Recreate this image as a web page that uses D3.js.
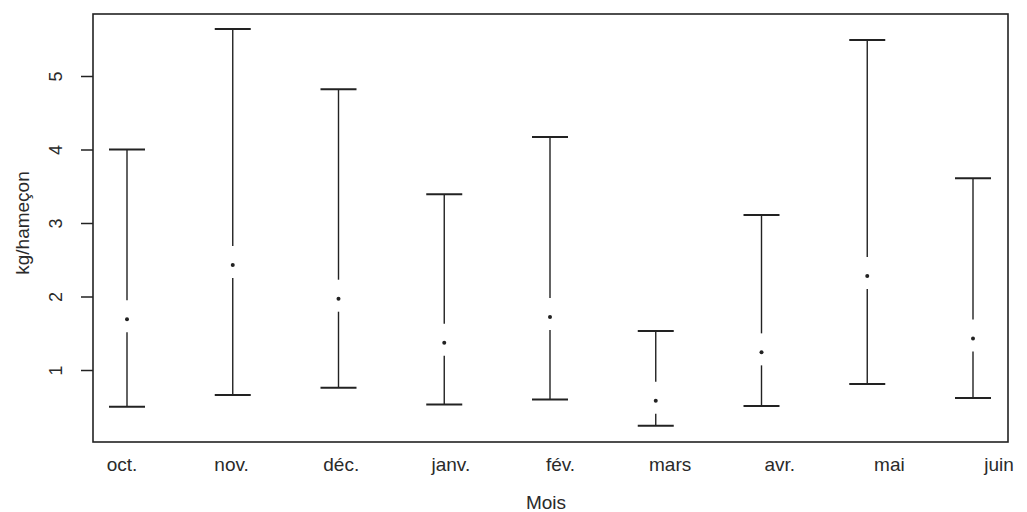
<!DOCTYPE html>
<html>
<head>
<meta charset="utf-8">
<script src="https://cdn.jsdelivr.net/npm/d3@7"></script>
<style>
  body { margin: 0; background: #fff; }
  text { font-family: "Liberation Sans", Arial, sans-serif; fill: #2a2a2a; }
</style>
</head>
<body>
<script>
var months = ["oct.", "nov.", "déc.", "janv.", "fév.", "mars", "avr.", "mai", "juin"];
var means  = [1.69, 2.43, 1.97, 1.37, 1.72, 0.58, 1.24, 2.28, 1.43];
var lower  = [0.50, 0.66, 0.76, 0.53, 0.60, 0.24, 0.51, 0.81, 0.62];
var upper  = [4.00, 5.64, 4.82, 3.39, 4.17, 1.53, 3.11, 5.49, 3.61];
var yTicks = [1, 2, 3, 4, 5];

var width = 1027;
var height = 512;
var box = { left: 93, right: 1008, top: 14, bottom: 442 };
var capHalf = 18;
var gapUp = 19, gapDown = 13;

var svg = d3.select("body").append("svg")
    .attr("width", width)
    .attr("height", height);

var data = months.map(function(m, i) {
    return { month: m, mean: means[i], lo: lower[i], hi: upper[i] };
});

// scales
var y = d3.scaleLinear().domain([1, 5]).range([370, 76]);
var x = d3.scalePoint().domain(months).range([127, 973]);
var xLab = d3.scalePoint().domain(months).range([122, 999]);

// plot frame
svg.append("rect")
    .attr("x", box.left)
    .attr("y", box.top)
    .attr("width", box.right - box.left)
    .attr("height", box.bottom - box.top)
    .attr("fill", "none")
    .attr("stroke", "#222")
    .attr("stroke-width", 1.6);

// y axis
var yAxis = svg.append("g")
    .attr("transform", "translate(" + box.left + ",0)")
    .call(d3.axisLeft(y).tickValues(yTicks).tickSize(12).tickFormat(d3.format("d")));
yAxis.select(".domain").remove();
yAxis.selectAll(".tick line").attr("stroke", "#222").attr("stroke-width", 1.5);
yAxis.selectAll(".tick text")
    .attr("x", null).attr("dy", null)
    .attr("font-size", 18)
    .attr("text-anchor", "middle")
    .attr("transform", "translate(-31,0) rotate(-90)");

svg.append("text")
    .attr("transform", "translate(29," + 223 + ") rotate(-90)")
    .attr("text-anchor", "middle")
    .attr("font-size", 19)
    .text("kg/hameçon");

// x labels
svg.selectAll(".xlab")
    .data(months)
    .enter()
    .append("text")
    .attr("class", "xlab")
    .attr("x", function(d) { return xLab(d); })
    .attr("y", 471)
    .attr("text-anchor", "middle")
    .attr("font-size", 19)
    .text(function(d) { return d; });

svg.append("text")
    .attr("x", 546)
    .attr("y", 509)
    .attr("text-anchor", "middle")
    .attr("font-size", 19)
    .text("Mois");

// error bars
var bars = svg.selectAll(".bar")
    .data(data)
    .enter()
    .append("g")
    .attr("class", "bar")
    .attr("stroke", "#222");

bars.append("line")
    .attr("x1", function(d) { return x(d.month); })
    .attr("x2", function(d) { return x(d.month); })
    .attr("y1", function(d) { return y(d.hi); })
    .attr("y2", function(d) { return y(d.mean) - gapUp; })
    .attr("stroke-width", 1.4);

bars.append("line")
    .attr("x1", function(d) { return x(d.month); })
    .attr("x2", function(d) { return x(d.month); })
    .attr("y1", function(d) { return y(d.mean) + gapDown; })
    .attr("y2", function(d) { return y(d.lo); })
    .attr("stroke-width", 1.4);

bars.append("line")
    .attr("x1", function(d) { return x(d.month) - capHalf; })
    .attr("x2", function(d) { return x(d.month) + capHalf; })
    .attr("y1", function(d) { return y(d.hi); })
    .attr("y2", function(d) { return y(d.hi); })
    .attr("stroke-width", 2);

bars.append("line")
    .attr("x1", function(d) { return x(d.month) - capHalf; })
    .attr("x2", function(d) { return x(d.month) + capHalf; })
    .attr("y1", function(d) { return y(d.lo); })
    .attr("y2", function(d) { return y(d.lo); })
    .attr("stroke-width", 2);

bars.append("circle")
    .attr("cx", function(d) { return x(d.month); })
    .attr("cy", function(d) { return y(d.mean); })
    .attr("r", 2)
    .attr("fill", "#222")
    .attr("stroke", "none");
</script>
</body>
</html>
